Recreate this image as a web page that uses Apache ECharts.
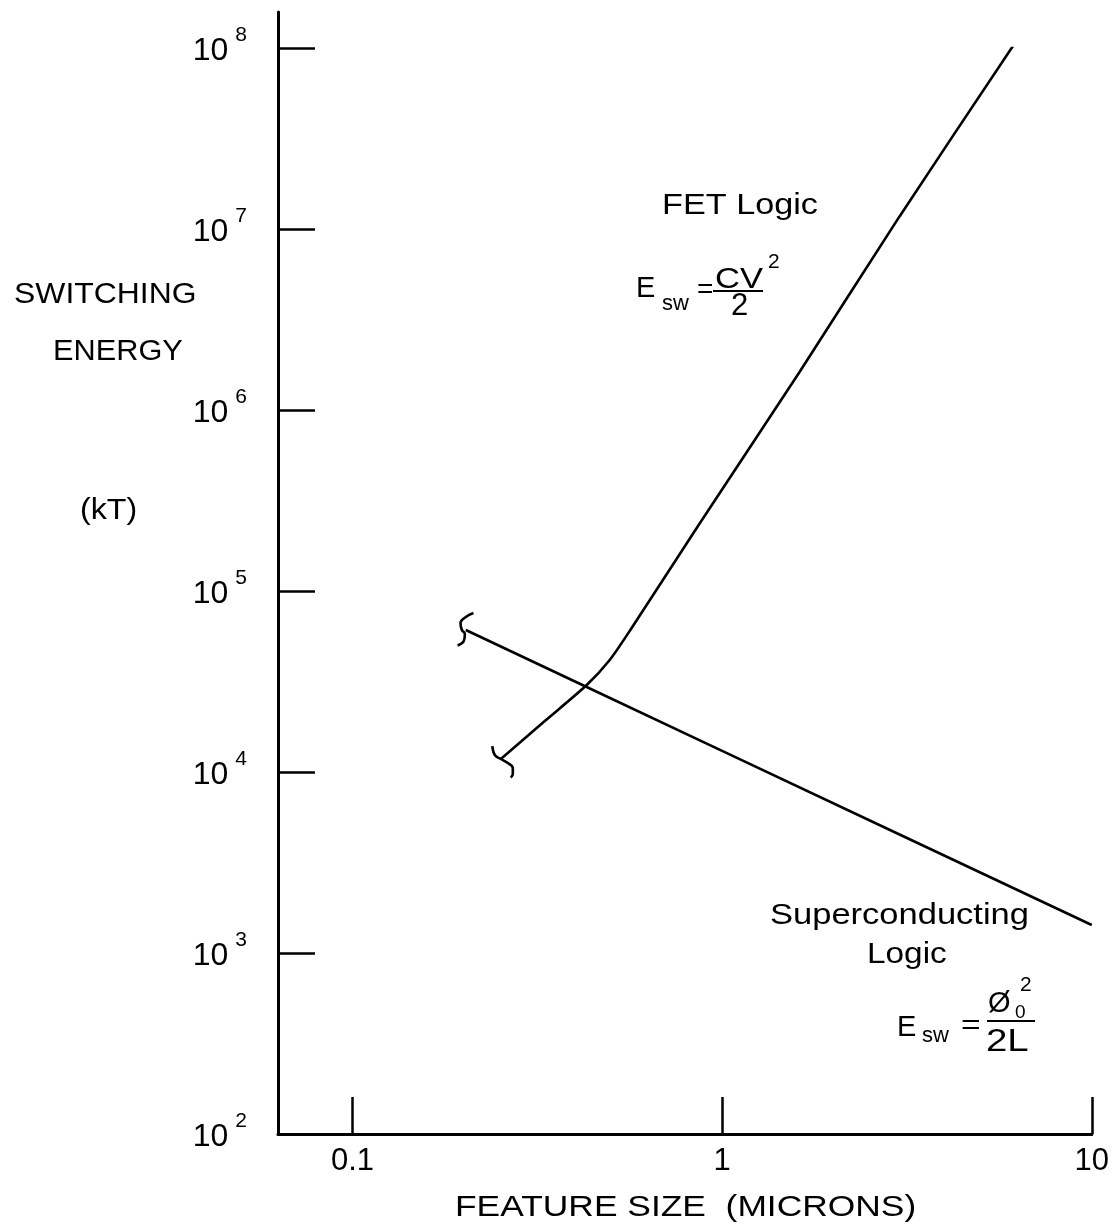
<!DOCTYPE html>
<html><head><meta charset="utf-8">
<script src="https://cdn.jsdelivr.net/npm/echarts@6/dist/echarts.min.js"></script>
<style>html,body{margin:0;padding:0;background:#fff}#c{width:1112px;height:1228px}</style>
</head><body><div id="c"></div>
<script>
// FET logic curve (feature size in microns, switching energy in kT)
const fetX = [0.2520, 0.3314, 0.4303, 0.4965, 0.5623, 0.8694, 1.620, 3.017, 6.172];
const fetY = [11800, 19130, 30240, 41570, 60120, 236000, 1621000, 11700000, 105200000];
// break mark at the lower end of the FET curve
const fetBreakX = [0.2390, 0.2427, 0.2520, 0.2632, 0.2715, 0.2715, 0.2681];
const fetBreakY = [13900, 12410, 11800, 11210, 10520, 9750, 9300];
// Superconducting logic line
const supX = [0.2026, 0.4, 1, 3, 10];
const supY = [60880, 31620, 13080, 4544, 1428];
// break mark at the left end of the superconducting line
const supBreakX = [0.2125, 0.2026, 0.1960, 0.1977, 0.2014, 0.2001, 0.1925];
const supBreakY = [75500, 71850, 66560, 60880, 57860, 52940, 50000];
// tick labels
const xTickLabels = ['0.1', '1', '10'];
const yTickExps = ['2', '3', '4', '5', '6', '7', '8'];

const FONT = '"Liberation Sans", Arial, Helvetica, sans-serif';
const zip = (a, b) => a.map((v, i) => [v, b[i]]);

function txt(text, x, y, size, sx, align) {
  return {
    type: 'text', x: x, y: y, scaleX: sx || 1, silent: true,
    style: {
      text: text, fill: '#000', fontSize: size, fontFamily: FONT,
      textAlign: align || 'left', textVerticalAlign: 'middle', verticalAlign: 'middle'
    }
  };
}
function bar(x1, x2, y) {
  return { type: 'line', silent: true, shape: { x1: x1, y1: y, x2: x2, y2: y },
           style: { stroke: '#000', lineWidth: 2 } };
}

const chart = echarts.init(document.getElementById('c'), null, { renderer: 'canvas' });
const lineStyle = { color: '#000', width: 2.6 };
const option = {
  animation: false,
  backgroundColor: '#fff',
  grid: [
    { left: 278, right: 19, top: 48, bottom: 94, containLabel: false },
    { left: 278, right: 19, top: 12, bottom: 94, containLabel: false }
  ],
  xAxis: [
    {
      type: 'log', logBase: 10, gridIndex: 0, min: 0.06289, max: 10,
      axisLine: { show: true, onZero: false, lineStyle: { color: '#000', width: 3 } },
      axisTick: { show: true, inside: true, length: 37, lineStyle: { color: '#000', width: 2.5 } },
      minorTick: { show: false }, splitLine: { show: false },
      axisLabel: {
        show: true, margin: 12, color: '#000', fontSize: 31, fontFamily: FONT,
        formatter: function (v) {
          const e = Math.log10(v), r = Math.round(e);
          if (Math.abs(e - r) > 1e-6) return '';
          return xTickLabels[r + 1] || '';
        }
      }
    },
    { type: 'value', gridIndex: 1, show: false, min: 0, max: 1 }
  ],
  yAxis: [
    {
      type: 'log', logBase: 10, gridIndex: 0, min: 100, max: 100000000,
      axisLine: { show: false },
      axisTick: { show: true, inside: true, length: 37, lineStyle: { color: '#000', width: 2.5 } },
      minorTick: { show: false }, splitLine: { show: false },
      axisLabel: {
        show: true, margin: 31, color: '#000', fontFamily: FONT,
        formatter: function (v) {
          const e = Math.round(Math.log10(v));
          const s = yTickExps[e - 2];
          return s ? '{b|10}{s|' + s + '}' : '';
        },
        rich: {
          b: { fontSize: 32, fontFamily: FONT, color: '#000', padding: [6, 0, 0, 0] },
          s: { fontSize: 21, fontFamily: FONT, color: '#000', padding: [0, 0, 26, 7] }
        }
      }
    },
    {
      type: 'value', gridIndex: 1, min: 0, max: 1,
      axisLine: { show: true, lineStyle: { color: '#000', width: 3 } },
      axisTick: { show: false }, axisLabel: { show: false }, splitLine: { show: false }
    }
  ],
  series: [
    { type: 'line', name: 'FET Logic', xAxisIndex: 0, yAxisIndex: 0, data: zip(fetX, fetY),
      symbol: 'none', showSymbol: false, smooth: 0.25, lineStyle: lineStyle, silent: true },
    { type: 'line', name: 'FET break', xAxisIndex: 0, yAxisIndex: 0, data: zip(fetBreakX, fetBreakY),
      symbol: 'none', showSymbol: false, smooth: 0.4, lineStyle: lineStyle, silent: true },
    { type: 'line', name: 'Superconducting Logic', xAxisIndex: 0, yAxisIndex: 0, data: zip(supX, supY),
      symbol: 'none', showSymbol: false, lineStyle: lineStyle, silent: true },
    { type: 'line', name: 'Superconducting break', xAxisIndex: 0, yAxisIndex: 0, data: zip(supBreakX, supBreakY),
      symbol: 'none', showSymbol: false, smooth: 0.4, lineStyle: lineStyle, silent: true }
  ],
  graphic: [
    // y-axis title
    txt('SWITCHING', 14, 295, 29, 1.10),
    txt('ENERGY', 53, 352, 29, 1.06),
    txt('(kT)', 80, 511, 29, 1.11),
    // x-axis title
    txt('FEATURE SIZE  (MICRONS)', 455, 1208, 29, 1.22),
    // FET annotation
    txt('FET Logic', 662, 206, 29, 1.18),
    txt('E', 636, 289, 29),
    txt('sw', 662, 304, 22),
    txt('=', 697, 290, 28),
    txt('CV', 715, 280, 29, 1.19),
    txt('2', 768, 262, 21),
    bar(713, 763, 291),
    txt('2', 731, 306, 31),
    // Superconducting annotation
    txt('Superconducting', 770, 916, 29, 1.19),
    txt('Logic', 867, 955, 29, 1.15),
    txt('E', 897, 1028, 29),
    txt('sw', 922, 1036, 22),
    txt('=', 961, 1026, 28, 1.2),
    txt('Ø', 988, 1004, 29),
    txt('0', 1015, 1013, 19),
    txt('2', 1020, 985, 21),
    bar(987, 1035, 1021),
    txt('2L', 986, 1042, 32, 1.2)
  ]
};
chart.setOption(option);
</script>
</body></html>
